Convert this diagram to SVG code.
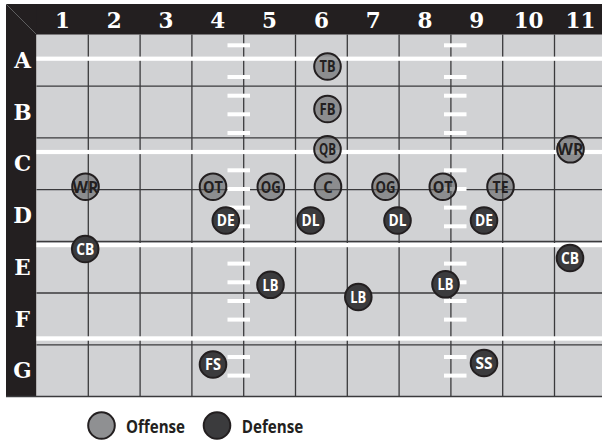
<svg xmlns="http://www.w3.org/2000/svg" xmlns:xlink="http://www.w3.org/1999/xlink" width="602" height="440" viewBox="0 0 602 440">
<style>
.hd{font-family:"DejaVu Serif",serif;font-weight:bold;font-size:21.5px;fill:#ffffff;text-anchor:middle}
.grid{stroke:#3a3a3c;stroke-width:1.3;fill:none}
.yard{fill:#ffffff}
.off circle{fill:#5e5f61;fill-opacity:0.6;stroke:#231f20;stroke-width:2}
.def circle{fill:#3b3b3d;stroke:#231f20;stroke-width:2}
.off text,.def text{font-family:"Open Sans","DejaVu Sans",sans-serif;font-weight:bold;font-size:16.5px;text-anchor:middle}
.off text{fill:#231f20}
.def text{fill:#ffffff}
.lg{font-family:"Open Sans","DejaVu Sans",sans-serif;font-weight:bold;font-size:17px;fill:#231f20}
</style>
<defs>
<g id="hash">
<rect x="0" y="43.3" width="22.5" height="4"/>
<rect x="0" y="75" width="22.5" height="4"/>
<rect x="0" y="93.7" width="22.5" height="4"/>
<rect x="0" y="112.3" width="22.5" height="4"/>
<rect x="0" y="131" width="22.5" height="4"/>
<rect x="0" y="168.3" width="22.5" height="4"/>
<rect x="0" y="187" width="22.5" height="4"/>
<rect x="0" y="205.6" width="22.5" height="4"/>
<rect x="0" y="224.3" width="22.5" height="4"/>
<rect x="0" y="261.6" width="22.5" height="4"/>
<rect x="0" y="280.3" width="22.5" height="4"/>
<rect x="0" y="299" width="22.5" height="4"/>
<rect x="0" y="317.6" width="22.5" height="4"/>
<rect x="0" y="355" width="22.5" height="4"/>
<rect x="0" y="373.6" width="22.5" height="4"/>
</g>
</defs>
<rect x="0" y="0" width="602" height="440" fill="#ffffff"/>
<!-- frame -->
<rect x="6" y="4" width="596" height="31" fill="#231f20"/>
<rect x="6" y="4" width="30.5" height="392.5" fill="#231f20"/>
<line x1="6" y1="4" x2="36.5" y2="34.5" stroke="#6d6e70" stroke-width="0.8"/>
<!-- field -->
<rect x="36.5" y="34.5" width="565.5" height="362" fill="#d1d2d4"/>
<g id="grid" class="grid">
<line x1="88.3" y1="34.5" x2="88.3" y2="396.5"/>
<line x1="140.1" y1="34.5" x2="140.1" y2="396.5"/>
<line x1="191.9" y1="34.5" x2="191.9" y2="396.5"/>
<line x1="243.7" y1="34.5" x2="243.7" y2="396.5"/>
<line x1="295.5" y1="34.5" x2="295.5" y2="396.5"/>
<line x1="347.3" y1="34.5" x2="347.3" y2="396.5"/>
<line x1="399.1" y1="34.5" x2="399.1" y2="396.5"/>
<line x1="450.9" y1="34.5" x2="450.9" y2="396.5"/>
<line x1="502.7" y1="34.5" x2="502.7" y2="396.5"/>
<line x1="554.5" y1="34.5" x2="554.5" y2="396.5"/>
<line x1="36.5" y1="86.2" x2="602" y2="86.2"/>
<line x1="36.5" y1="137.9" x2="602" y2="137.9"/>
<line x1="36.5" y1="189.6" x2="602" y2="189.6"/>
<line x1="36.5" y1="241.5" x2="602" y2="241.5"/>
<line x1="36.5" y1="293" x2="602" y2="293"/>
<line x1="36.5" y1="344.8" x2="602" y2="344.8"/>
<line x1="6" y1="396.5" x2="602" y2="396.5"/>
</g>
<g id="yardlines" class="yard">
<rect x="36.5" y="56.6" width="565.5" height="4.2"/>
<rect x="36.5" y="149.9" width="565.5" height="4.2"/>
<rect x="36.5" y="243" width="565.5" height="4.2"/>
<rect x="36.5" y="336.3" width="565.5" height="4.4"/>
<use xlink:href="#hash" href="#hash" x="227.5"/>
<use xlink:href="#hash" href="#hash" x="444"/>
</g>
<!-- headers -->
<g id="col-labels" class="hd">
<text x="62.4" y="28.3">1</text>
<text x="114.2" y="28.3">2</text>
<text x="166" y="28.3">3</text>
<text x="217.8" y="28.3">4</text>
<text x="269.6" y="28.3">5</text>
<text x="321.4" y="28.3">6</text>
<text x="373.2" y="28.3">7</text>
<text x="425" y="28.3">8</text>
<text x="476.8" y="28.3">9</text>
<text x="528.6" y="28.3">10</text>
<text x="580.4" y="28.3">11</text>
</g>
<g id="row-labels" class="hd">
<text x="22.5" y="68">A</text>
<text x="22.5" y="119.6">B</text>
<text x="22.5" y="171.4">C</text>
<text x="22.5" y="223.1">D</text>
<text x="22.5" y="274.8">E</text>
<text x="22.5" y="326.5">F</text>
<text x="22.5" y="377.5">G</text>
</g>
<g id="connectors"></g>
<!-- offense -->
<g id="off-TB" class="off"><circle cx="327.5" cy="66.5" r="13.3"/><text x="327.5" y="72.3" textLength="16" lengthAdjust="spacingAndGlyphs">TB</text></g>
<g id="off-FB" class="off"><circle cx="327.5" cy="109" r="13.3"/><text x="327.5" y="114.8" textLength="16" lengthAdjust="spacingAndGlyphs">FB</text></g>
<g id="off-QB" class="off"><circle cx="327.5" cy="149.3" r="13.3"/><text x="327.5" y="155.1" textLength="17" lengthAdjust="spacingAndGlyphs">QB</text></g>
<g id="off-WR1" class="off"><circle cx="85.5" cy="186.7" r="13.3"/><text x="85.5" y="192.5" textLength="26" lengthAdjust="spacingAndGlyphs">WR</text></g>
<g id="off-OT1" class="off"><circle cx="213" cy="186.7" r="13.3"/><text x="213" y="192.5" textLength="20" lengthAdjust="spacingAndGlyphs">OT</text></g>
<g id="off-OG1" class="off"><circle cx="270.8" cy="186.7" r="13.3"/><text x="270.8" y="192.5" textLength="20" lengthAdjust="spacingAndGlyphs">OG</text></g>
<g id="off-C" class="off"><circle cx="328" cy="186.7" r="13.3"/><text x="328" y="192.5" textLength="9.5" lengthAdjust="spacingAndGlyphs">C</text></g>
<g id="off-OG2" class="off"><circle cx="385.5" cy="186.7" r="13.3"/><text x="385.5" y="192.5" textLength="20" lengthAdjust="spacingAndGlyphs">OG</text></g>
<g id="off-OT2" class="off"><circle cx="442.8" cy="186.7" r="13.3"/><text x="442.8" y="192.5" textLength="20" lengthAdjust="spacingAndGlyphs">OT</text></g>
<g id="off-TE" class="off"><circle cx="500.5" cy="186.7" r="13.3"/><text x="500.5" y="192.5" textLength="16" lengthAdjust="spacingAndGlyphs">TE</text></g>
<g id="off-WR2" class="off"><circle cx="570.5" cy="149.3" r="13.3"/><text x="570.5" y="155.1" textLength="26" lengthAdjust="spacingAndGlyphs">WR</text></g>
<!-- defense -->
<g id="def-DE1" class="def"><circle cx="225.8" cy="220.5" r="13.3"/><text x="225.8" y="226.3" textLength="18" lengthAdjust="spacingAndGlyphs">DE</text></g>
<g id="def-DL1" class="def"><circle cx="310.5" cy="220.5" r="13.3"/><text x="310.5" y="226.3" textLength="18" lengthAdjust="spacingAndGlyphs">DL</text></g>
<g id="def-DL2" class="def"><circle cx="397.5" cy="220.5" r="13.3"/><text x="397.5" y="226.3" textLength="18" lengthAdjust="spacingAndGlyphs">DL</text></g>
<g id="def-DE2" class="def"><circle cx="484" cy="220.5" r="13.3"/><text x="484" y="226.3" textLength="18" lengthAdjust="spacingAndGlyphs">DE</text></g>
<g id="def-CB1" class="def"><circle cx="85.2" cy="249" r="13.3"/><text x="85.2" y="254.8" textLength="18" lengthAdjust="spacingAndGlyphs">CB</text></g>
<g id="def-CB2" class="def"><circle cx="570" cy="258" r="13.3"/><text x="570" y="263.8" textLength="18" lengthAdjust="spacingAndGlyphs">CB</text></g>
<g id="def-LB1" class="def"><circle cx="270.5" cy="284.8" r="13.3"/><text x="270.5" y="290.6" textLength="16" lengthAdjust="spacingAndGlyphs">LB</text></g>
<g id="def-LB2" class="def"><circle cx="358.3" cy="297" r="13.3"/><text x="358.3" y="302.8" textLength="16" lengthAdjust="spacingAndGlyphs">LB</text></g>
<g id="def-LB3" class="def"><circle cx="445.5" cy="284.3" r="13.3"/><text x="445.5" y="290.1" textLength="16" lengthAdjust="spacingAndGlyphs">LB</text></g>
<g id="def-FS" class="def"><circle cx="213" cy="364.5" r="13.3"/><text x="213" y="370.3" textLength="16" lengthAdjust="spacingAndGlyphs">FS</text></g>
<g id="def-SS" class="def"><circle cx="484" cy="363" r="13.3"/><text x="484" y="368.8" textLength="17" lengthAdjust="spacingAndGlyphs">SS</text></g>
<!-- legend -->
<g id="legend-offense">
<circle cx="101.5" cy="425.5" r="13.3" fill="#8f9092" stroke="#231f20" stroke-width="2"/>
<text class="lg" x="126" y="432.6" textLength="59" lengthAdjust="spacingAndGlyphs">Offense</text>
</g>
<g id="legend-defense">
<circle cx="217" cy="425.5" r="13.3" fill="#3b3b3d" stroke="#231f20" stroke-width="2"/>
<text class="lg" x="241.7" y="432.6" textLength="61.6" lengthAdjust="spacingAndGlyphs">Defense</text>
</g>
</svg>
